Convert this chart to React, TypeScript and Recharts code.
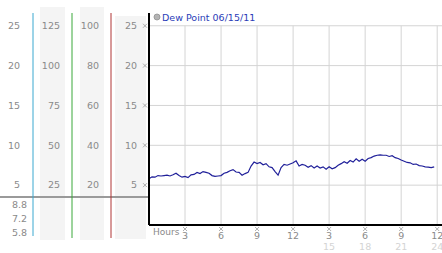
import { ComposedChart, Line, XAxis, YAxis, CartesianGrid, ReferenceLine } from "recharts";

// dew point readings, every 15 minutes
const hours = [
  0, 0.25, 0.5, 0.75, 1, 1.25, 1.5, 1.75, 2, 2.25, 2.5, 2.75, 3, 3.25, 3.5, 3.75, 4, 4.25, 4.5, 4.75,
  5, 5.25, 5.5, 5.75, 6, 6.25, 6.5, 6.75, 7, 7.25, 7.5, 7.75, 8, 8.25, 8.5, 8.75, 9, 9.25, 9.5, 9.75,
  10, 10.25, 10.5, 10.75, 11, 11.25, 11.5, 11.75, 12, 12.25, 12.5, 12.75, 13, 13.25, 13.5, 13.75,
  14, 14.25, 14.5, 14.75, 15, 15.25, 15.5, 15.75, 16, 16.25, 16.5, 16.75, 17, 17.25, 17.5, 17.75,
  18, 18.25, 18.5, 18.75, 19, 19.25, 19.5, 19.75, 20, 20.25, 20.5, 20.75, 21, 21.25, 21.5, 21.75,
  22, 22.25, 22.5, 22.75, 23, 23.25, 23.5, 23.75,
];
const dewPoint = [
  5.8, 6.05, 6.0, 6.2, 6.15, 6.2, 6.25, 6.15,
  6.3, 6.5, 6.2, 6.0, 6.1, 5.95, 6.3, 6.35,
  6.6, 6.45, 6.7, 6.6, 6.5, 6.2, 6.1, 6.15,
  6.2, 6.5, 6.6, 6.8, 6.95, 6.65, 6.6, 6.25,
  6.45, 6.6, 7.4, 7.9, 7.7, 7.85, 7.55, 7.7,
  7.3, 7.2, 6.7, 6.25, 7.2, 7.6, 7.5, 7.65,
  7.8, 8.05, 7.4, 7.6, 7.5, 7.25, 7.45, 7.15,
  7.4, 7.15, 7.3, 7.0, 7.3, 7.05, 7.2, 7.5,
  7.7, 7.95, 7.75, 8.1, 7.9, 8.3, 8.0, 8.25,
  8.0, 8.35, 8.45, 8.65, 8.75, 8.8, 8.75, 8.75,
  8.6, 8.7, 8.45, 8.35, 8.15, 8.0, 7.85, 7.8,
  7.6, 7.65, 7.45, 7.4, 7.3, 7.25, 7.2, 7.3,
];

const hourTicks = [3, 6, 9, 12, 15, 18, 21, 24];
const celsiusTicks = [5, 10, 15, 20, 25];
const col2Ticks = [25, 50, 75, 100, 125];
const col3Ticks = [20, 40, 60, 80, 100];
const summary = ["8.8", "7.2", "5.8"];

const data = hours.map((h, i) => ({ h, v: dewPoint[i] }));

const W = 442;
const H = 253;
const FONT = "'DejaVu Sans', Verdana, sans-serif";
const LABEL = "#8a8a8a";
const GRID = "#d4d4d4";

const Glyph = ({ cx, cy }: { cx: number; cy: number }) => (
  <g stroke="#9a9a9a" strokeWidth={0.8}>
    <line x1={cx - 2} y1={cy - 2} x2={cx + 2} y2={cy + 2} />
    <line x1={cx - 2} y1={cy + 2} x2={cx + 2} y2={cy - 2} />
  </g>
);

const YTick = (glyph: boolean) => (props: any) => {
  const { x, y, payload } = props;
  return (
    <g>
      <text x={x} y={y} dy="0.35em" textAnchor="end" fontSize={9.5} fontFamily={FONT} fill={LABEL}>
        {payload.value}
      </text>
      {glyph && <Glyph cx={145} cy={y} />}
    </g>
  );
};

const XTick = (props: any) => {
  const { x, y, payload } = props;
  const v = payload.value as number;
  return (
    <g>
      <Glyph cx={x} cy={y + 4} />
      <text x={x} y={y + 14} textAnchor="middle" fontSize={9.5} fontFamily={FONT} fill={LABEL}>
        {v % 12 === 0 ? 12 : v % 12}
      </text>
      {v > 12 && (
        <text x={x} y={y + 25} textAnchor="middle" fontSize={9.5} fontFamily={FONT} fill="#d4d4d4">
          {v}
        </text>
      )}
    </g>
  );
};

export default function App() {
  return (
    <div style={{ position: "absolute", left: 0, top: 0, width: W, height: H, background: "#fff" }}>
      <svg width={W} height={H} style={{ position: "absolute", left: 0, top: 0 }}>
        <rect x={40} y={7} width={25} height={233} fill="#f4f4f4" />
        <rect x={80} y={7} width={24} height={233} fill="#f4f4f4" />
        <rect x={115} y={16} width={31} height={223} fill="#f4f4f4" />
        <line x1={33} y1={225} x2={33} y2={236} stroke="#3aa8d0" />
        <line x1={72} y1={225} x2={72} y2={238} stroke="#3aa83a" />
        <line x1={111} y1={225} x2={111} y2={238} stroke="#b03434" />
        <line x1={0} y1={197} x2={149} y2={197} stroke="#9a9a9a" strokeWidth={2} />
        {summary.map((s, i) => (
          <text key={s + i} x={27} y={208 + i * 14} textAnchor="end" fontSize={9.5} fontFamily={FONT} fill={LABEL}>
            {s}
          </text>
        ))}
        <text x={153} y={235} fontSize={9} fontFamily={FONT} fill={LABEL}>
          Hours
        </text>
      </svg>
      <div style={{ position: "absolute", left: 0, top: 0 }}>
        <ComposedChart width={W} height={H} data={data} margin={{ top: 13, right: 0, bottom: 0, left: 0 }}>
          <CartesianGrid vertical={false} stroke={GRID} yAxisId="a" horizontalValues={celsiusTicks} />
          <XAxis
            dataKey="h"
            type="number"
            domain={[0, 24.4]}
            ticks={hourTicks}
            interval={0}
            height={28}
            tickSize={0}
            tickMargin={0}
            tick={XTick}
            axisLine={{ stroke: "#000", strokeWidth: 2 }}
          />
          {/* axes are stacked by id: "a" sits next to the plot, "d" at the far left */}
          <YAxis
            yAxisId="d"
            domain={[0, 26.6]}
            allowDataOverflow
            ticks={celsiusTicks}
            interval={0}
            width={33}
            tickSize={0}
            tickMargin={13}
            tick={YTick(false)}
            axisLine={{ stroke: "#3aa8d0" }}
          />
          <YAxis
            yAxisId="c"
            domain={[0, 133]}
            allowDataOverflow
            ticks={col2Ticks}
            interval={0}
            width={39}
            tickSize={0}
            tickMargin={12}
            tick={YTick(false)}
            axisLine={{ stroke: "#3aa83a" }}
          />
          <YAxis
            yAxisId="b"
            domain={[0, 106.4]}
            allowDataOverflow
            ticks={col3Ticks}
            interval={0}
            width={39}
            tickSize={0}
            tickMargin={12}
            tick={YTick(false)}
            axisLine={{ stroke: "#b03434" }}
          />
          <YAxis
            yAxisId="a"
            domain={[0, 26.6]}
            allowDataOverflow
            ticks={celsiusTicks}
            interval={0}
            width={38}
            tickSize={0}
            tickMargin={12}
            tick={YTick(true)}
            axisLine={{ stroke: "#000", strokeWidth: 2 }}
          />
          {hourTicks.map((t) => (
            <ReferenceLine
              key={t}
              yAxisId="a"
              segment={[
                { x: t, y: 0 },
                { x: t, y: 25 },
              ]}
              stroke={GRID}
            />
          ))}
          <Line
            yAxisId="a"
            dataKey="v"
            type="linear"
            stroke="#20209a"
            strokeWidth={1.2}
            dot={false}
            isAnimationActive={false}
          />
        </ComposedChart>
      </div>
      <svg width={W} height={30} style={{ position: "absolute", left: 0, top: 0, pointerEvents: "none" }}>
        <circle cx={157} cy={17} r={3} fill="#b4b4b4" stroke="#909090" strokeWidth={0.8} />
        <text x={162} y={21} fontSize={9.5} fontFamily={FONT} fill="#2a3cb8">
          Dew Point 06/15/11
        </text>
      </svg>
    </div>
  );
}
